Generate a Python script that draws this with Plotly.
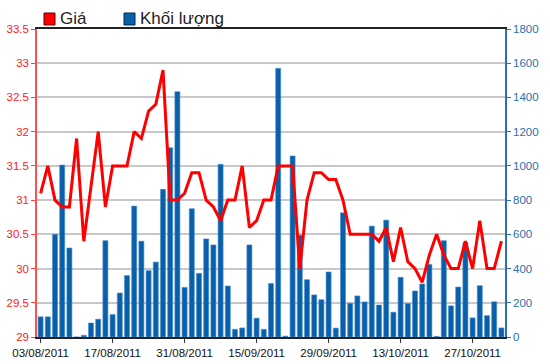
import plotly.graph_objects as go

dates = [
    "03/08/2011", "04/08/2011", "05/08/2011", "08/08/2011", "09/08/2011",
    "10/08/2011", "11/08/2011", "12/08/2011", "15/08/2011", "16/08/2011",
    "17/08/2011", "18/08/2011", "19/08/2011", "22/08/2011", "23/08/2011",
    "24/08/2011", "25/08/2011", "26/08/2011", "29/08/2011", "30/08/2011",
    "31/08/2011", "01/09/2011", "05/09/2011", "06/09/2011", "07/09/2011",
    "08/09/2011", "09/09/2011", "12/09/2011", "13/09/2011", "14/09/2011",
    "15/09/2011", "16/09/2011", "19/09/2011", "20/09/2011", "21/09/2011",
    "22/09/2011", "23/09/2011", "26/09/2011", "27/09/2011", "28/09/2011",
    "29/09/2011", "30/09/2011", "03/10/2011", "04/10/2011", "05/10/2011",
    "06/10/2011", "07/10/2011", "10/10/2011", "11/10/2011", "12/10/2011",
    "13/10/2011", "14/10/2011", "17/10/2011", "18/10/2011", "19/10/2011",
    "20/10/2011", "21/10/2011", "24/10/2011", "25/10/2011", "26/10/2011",
    "27/10/2011", "28/10/2011", "31/10/2011", "01/11/2011", "02/11/2011",
]

price = [
    31.1, 31.5, 31.0, 30.9, 30.9, 31.9, 30.4, 31.2, 32.0, 30.9,
    31.5, 31.5, 31.5, 32.0, 31.9, 32.3, 32.4, 32.9, 31.0, 31.0,
    31.1, 31.4, 31.4, 31.0, 30.9, 30.7, 31.0, 31.0, 31.5, 30.6,
    30.7, 31.0, 31.0, 31.5, 31.5, 31.5, 30.0, 31.0, 31.4, 31.4,
    31.3, 31.3, 31.0, 30.5, 30.5, 30.5, 30.5, 30.4, 30.6, 30.1,
    30.6, 30.1, 30.0, 29.8, 30.2, 30.5, 30.2, 30.0, 30.0, 30.4,
    30.0, 30.7, 30.0, 30.0, 30.4,
]

volume = [
    118, 118, 600, 1005, 520, 0, 10, 82, 104, 563,
    131, 257, 359, 765, 560, 388, 438, 863, 1106, 1434,
    290, 750, 372, 573, 538, 1009, 298, 45, 53, 538,
    110, 45, 313, 1570, 5, 1058, 595, 335, 246, 218,
    380, 52, 726, 197, 240, 205, 648, 187, 683, 145,
    349, 196, 269, 310, 424, 4, 563, 182, 292, 551,
    112, 300, 125, 206, 53,
]

tick_labels = ["03/08/2011", "17/08/2011", "31/08/2011", "15/09/2011",
               "29/09/2011", "13/10/2011", "27/10/2011"]

legend_names = ["Giá", "Khối lượng"]

RED = "#ff0000"
BLUE = "#0a60a8"
FONT = "Liberation Sans, Arial, sans-serif"

fig = go.Figure()

fig.add_trace(go.Bar(
    x=dates, y=volume, yaxis="y", name=legend_names[1],
    marker=dict(color=BLUE, line=dict(color="#4a8fd0", width=0.6)),
    width=0.7, showlegend=False,
))

fig.add_trace(go.Scatter(
    x=dates, y=price, yaxis="y2", name=legend_names[0], mode="lines",
    line=dict(color=RED, width=3), showlegend=False,
))

fig.update_layout(
    width=550, height=364,
    margin=dict(l=37, r=45, t=29, b=27, autoexpand=False),
    paper_bgcolor="white", plot_bgcolor="white",
    font=dict(family=FONT, size=11),
    xaxis=dict(
        type="category", range=[-0.5, len(dates) - 0.5], automargin=False,
        tickmode="array", tickvals=tick_labels, ticktext=tick_labels,
        ticks="outside", ticklen=4, tickcolor="#333333", tickwidth=1,
        showline=True, linecolor="#222222", linewidth=1.5, mirror=True,
        showgrid=False, tickfont=dict(color="#111111", size=11.5),
    ),
    yaxis=dict(
        side="right", range=[0, 1800], dtick=200, tick0=0, automargin=False,
        showgrid=True, gridcolor="#c8c8c8", gridwidth=1.5,
        ticks="outside", ticklen=4, tickcolor="#2a6fb0",
        showline=True, linecolor="#2a6fb0", linewidth=1.5,
        tickfont=dict(color="#2a6fb0", size=11.5), zeroline=False,
    ),
    yaxis2=dict(
        overlaying="y", side="left", range=[29, 33.5], dtick=0.5, tick0=29,
        automargin=False, showgrid=False, zeroline=False,
        ticks="outside", ticklen=4, tickcolor="#ff4040",
        showline=True, linecolor="#ff5050", linewidth=1.5,
        tickfont=dict(color="#ff2020", size=11.5),
    ),
)

# legend drawn at top
fig.add_shape(type="rect", xref="paper", yref="paper",
              x0=(44 - 37) / 468, x1=(55 - 37) / 468,
              y0=(337 - 25) / 308, y1=(337 - 13) / 308,
              fillcolor=RED, line=dict(color="#600000", width=1))
fig.add_shape(type="rect", xref="paper", yref="paper",
              x0=(124 - 37) / 468, x1=(135 - 37) / 468,
              y0=(337 - 25) / 308, y1=(337 - 13) / 308,
              fillcolor=BLUE, line=dict(color="#002850", width=1))
fig.add_annotation(text=legend_names[0], xref="paper", yref="paper",
                   x=(58 - 37) / 468, y=(337 - 19) / 308, xanchor="left", yanchor="middle",
                   showarrow=False, font=dict(family=FONT, size=17, color="#222222"))
fig.add_annotation(text=legend_names[1], xref="paper", yref="paper",
                   x=(138 - 37) / 468, y=(337 - 19) / 308, xanchor="left", yanchor="middle",
                   showarrow=False, font=dict(family=FONT, size=17, color="#222222"))

fig.write_html(
    "out.html",
    config={"displayModeBar": False},
    post_script="document.body.style.margin='0';document.body.style.padding='0';",
)
